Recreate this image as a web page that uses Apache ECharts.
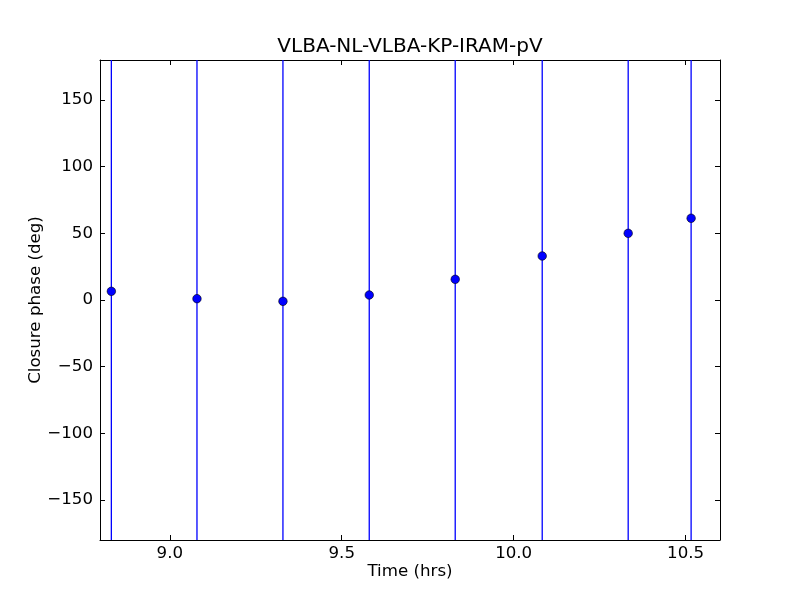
<!DOCTYPE html>
<html>
<head>
<meta charset="utf-8">
<script src="https://cdn.jsdelivr.net/npm/echarts@6/dist/echarts.min.js"></script>
<style>html,body{margin:0;padding:0;background:#fff}#c{width:800px;height:600px}</style>
</head>
<body>
<div id="c"></div>
<script>
const titleText = 'VLBA-NL-VLBA-KP-IRAM-pV';
const timeHrs = [8.830, 9.079, 9.329, 9.580, 9.830, 10.083, 10.333, 10.516];
const closurePhase = [6.5, 1.0, -1.0, 3.75, 15.5, 33.0, 50.0, 61.3];
const phaseError = [400, 400, 400, 400, 400, 400, 400, 400];
const xTicks = [9.0, 9.5, 10.0, 10.5];
const yTicks = [-150, -100, -50, 0, 50, 100, 150];

const FONT = 'DejaVu Sans';
const chart = echarts.init(document.getElementById('c'), null, {renderer: 'canvas'});

const pts = timeHrs.map((t, i) => [t, closurePhase[i]]);
const errs = timeHrs.map((t, i) => [t, closurePhase[i], phaseError[i]]);

function axisCommon() {
  return {
    axisLine: {show: true, onZero: false, lineStyle: {color: '#000', width: 1}},
    splitLine: {show: false},
  };
}

const option = {
  animation: false,
  backgroundColor: '#fff',
  title: {
    text: titleText,
    left: 410, top: 37, textAlign: 'center', padding: 0,
    textStyle: {fontFamily: FONT, fontSize: 20, fontWeight: 'normal', color: '#000'}
  },
  grid: {left: 100, right: 80, top: 60, bottom: 60, containLabel: false},
  xAxis: [{
    type: 'value', min: 8.797, max: 10.6, position: 'bottom',
    ...axisCommon(),
    axisTick: {show: true, inside: true, length: 5, customValues: xTicks, lineStyle: {color: '#000'}},
    axisLabel: {show: true, customValues: xTicks, margin: 5, color: '#000', fontFamily: FONT, fontSize: 16.67,
      formatter: v => v.toFixed(1)},
    name: 'Time (hrs)', nameLocation: 'middle', nameGap: 23, nameMoveOverlap: false,
    nameTextStyle: {fontFamily: FONT, fontSize: 16.67, color: '#000'}
  }, {
    type: 'value', min: 8.797, max: 10.6, position: 'top',
    ...axisCommon(),
    axisTick: {show: true, inside: true, length: 5, customValues: xTicks, lineStyle: {color: '#000'}},
    axisLabel: {show: false}
  }],
  yAxis: [{
    type: 'value', min: -180, max: 180, position: 'left',
    ...axisCommon(),
    axisTick: {show: true, inside: true, length: 5, customValues: yTicks, lineStyle: {color: '#000'}},
    axisLabel: {show: true, customValues: yTicks, margin: 7, color: '#000', fontFamily: FONT, fontSize: 16.67,
      formatter: v => String(v).replace('-', '\u2212')},
    name: 'Closure phase (deg)', nameLocation: 'middle', nameGap: 56, nameRotate: 90, nameMoveOverlap: false,
    nameTextStyle: {fontFamily: FONT, fontSize: 16.67, color: '#000'}
  }, {
    type: 'value', min: -180, max: 180, position: 'right',
    ...axisCommon(),
    axisTick: {show: true, inside: true, length: 5, customValues: yTicks, lineStyle: {color: '#000'}},
    axisLabel: {show: false}
  }],
  series: [{
    type: 'custom',
    xAxisIndex: 0, yAxisIndex: 0,
    clip: true,
    data: errs,
    renderItem: function (params, api) {
      const x = api.value(0), y = api.value(1), e = api.value(2);
      const p1 = api.coord([x, y - e]);
      const p2 = api.coord([x, y + e]);
      return {
        type: 'line',
        shape: {x1: p1[0], y1: p1[1], x2: p2[0], y2: p2[1]},
        style: {stroke: '#0000ff', lineWidth: 1.3}
      };
    },
    z: 2
  }, {
    type: 'scatter',
    xAxisIndex: 0, yAxisIndex: 0,
    data: pts,
    symbol: 'circle', symbolSize: 8.5,
    itemStyle: {color: '#0000ff', borderColor: '#000', borderWidth: 0.6, opacity: 1},
    z: 3
  }]
};
chart.setOption(option);
</script>
</body>
</html>
